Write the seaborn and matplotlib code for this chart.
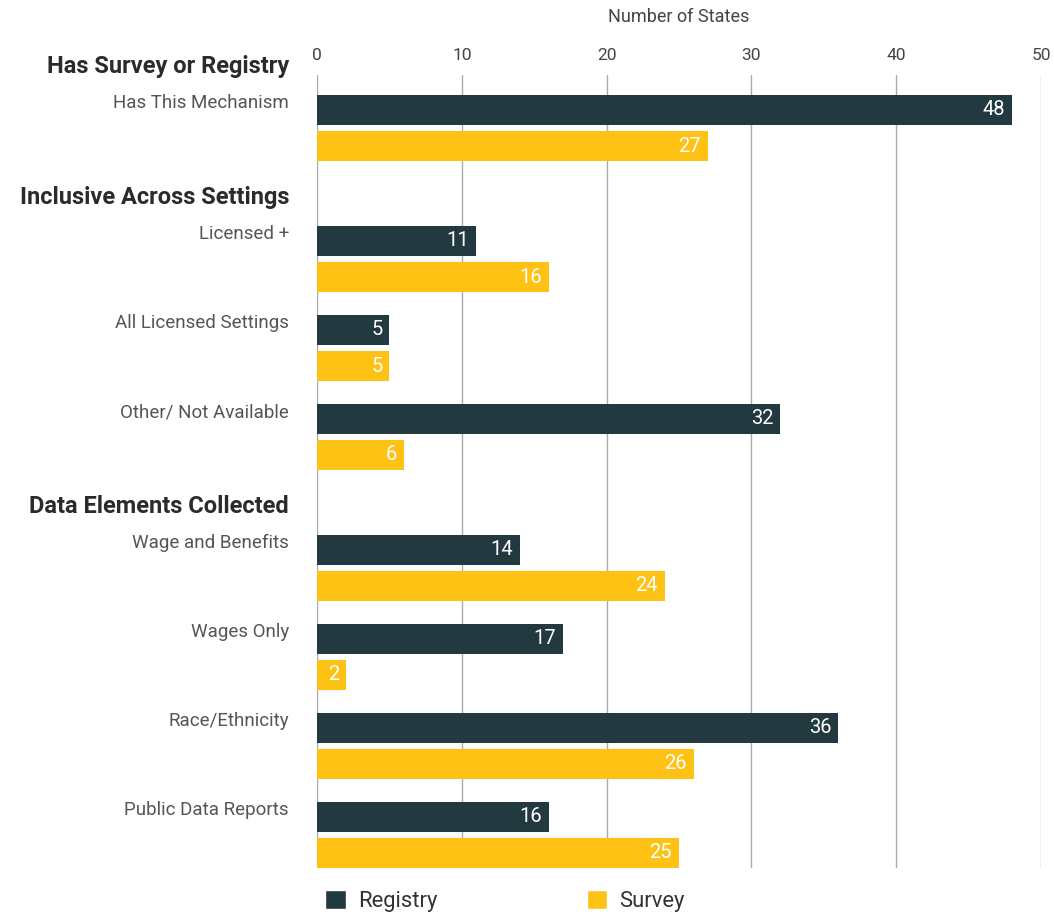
"""
State workforce data mechanisms: registry vs survey, grouped horizontal bars.
"""
import pandas as pd
import seaborn as sns
import matplotlib.pyplot as plt
from matplotlib.patches import Patch
from matplotlib.transforms import blended_transform_factory

# data
groups = ["Has Survey or Registry", "Inclusive Across Settings", "Data Elements Collected"]
items = [
    ["Has This Mechanism"],
    ["Licensed +", "All Licensed Settings", "Other/ Not Available"],
    ["Wage and Benefits", "Wages Only", "Race/Ethnicity", "Public Data Reports"],
]
registry = [48, 11, 5, 32, 14, 17, 36, 16]
survey = [27, 16, 5, 6, 24, 2, 26, 25]
series = ["Registry", "Survey"]
colors = {"Registry": "#233940", "Survey": "#FEC214"}


def main():
    sns.set_theme(style="white")
    plt.rcParams["font.family"] = ["Roboto", "DejaVu Sans"]

    # row positions, with extra room before each group header
    header_gap = 0.472
    positions, labels, header_pos = [], [], []
    pos = 0.0
    for gi, grp in enumerate(items):
        if gi > 0:
            pos += header_gap
        header_pos.append(pos - 0.69)
        for name in grp:
            positions.append(pos)
            labels.append(name)
            pos += 1

    df = pd.DataFrame({
        "pos": positions * 2,
        "value": registry + survey,
        "series": ["Registry"] * len(registry) + ["Survey"] * len(survey),
    })

    fig = plt.figure(figsize=(10.54, 9.18), dpi=100)
    ax = fig.add_axes([0.3008, 0.0545, 0.6869, 0.8638])

    sns.barplot(data=df, x="value", y="pos", hue="series", hue_order=series,
                palette=colors, saturation=1, orient="h", native_scale=True,
                width=0.81, gap=0.167, errorbar=None, legend=False, ax=ax,
                linewidth=0, zorder=3)

    for cont in ax.containers:
        texts = ax.bar_label(cont, padding=-5, color="white", fontsize=14.5)
        for t in texts:
            t.set_ha("right")

    ax.set_xlim(0, 50)
    ax.set_ylim(positions[-1] + 0.371, -0.5955)
    ax.set_xticks(range(0, 51, 10))
    ax.xaxis.tick_top()
    ax.tick_params(axis="x", length=0, pad=9, labelsize=12.5, labelcolor="#444444")
    ax.set_yticks([])
    ax.set_xlabel("")
    ax.set_ylabel("")
    ax.grid(axis="x", color="#aaaaaa", linewidth=1)
    ax.set_axisbelow(True)
    for s in ax.spines.values():
        s.set_visible(False)

    fig.text(679 / 1054, 1 - 17 / 918, "Number of States", ha="center",
             va="center", fontsize=13, color="#444444")

    trans = blended_transform_factory(fig.transFigure, ax.transData)
    lx = 289 / 1054
    for name, p in zip(labels, positions):
        ax.text(lx, p - 0.28, name, transform=trans, ha="right", va="center",
                fontsize=13.5, color="#555555")
    for grp, p in zip(groups, header_pos):
        ax.text(lx, p, grp, transform=trans, ha="right", va="center",
                fontsize=17, color="#2b2b2b", fontweight="bold", clip_on=False)

    handles = [Patch(facecolor=colors[s], label=s) for s in series]
    fig.legend(handles=handles, loc="center", bbox_to_anchor=(505 / 1054, 0.0185),
               ncol=2, frameon=False, fontsize=15.8, handlelength=0.95,
               handleheight=1.0, handletextpad=0.55, columnspacing=6.8,
               labelcolor="#333333")

    fig.savefig("out.png", dpi=100)


if __name__ == "__main__":
    main()
